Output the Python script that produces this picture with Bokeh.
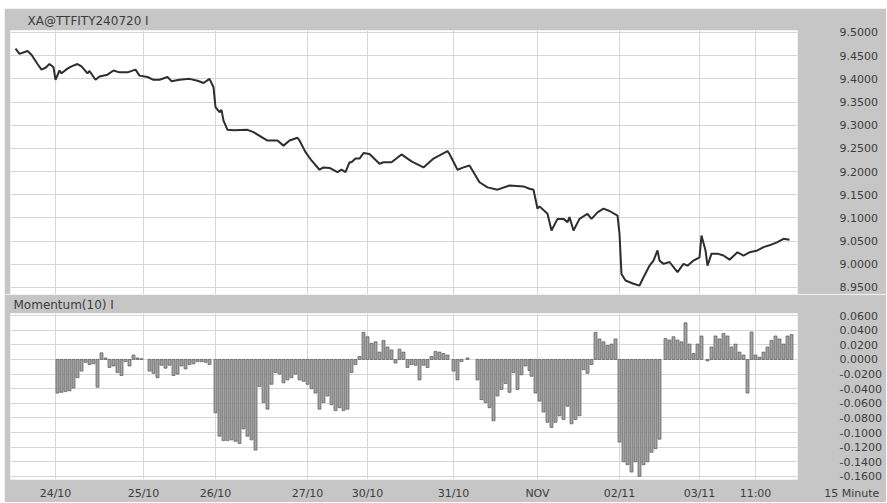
from bokeh.plotting import figure
from bokeh.layouts import column
from bokeh.models import Range1d, FixedTicker, LinearAxis
from bokeh.embed import file_html
from bokeh.resources import INLINE

# ---------------- data (15-minute bar index) ----------------
price_idx = [0, 2, 6, 8, 11, 13, 15, 17, 19, 20, 22, 23, 26, 28, 31, 33, 36, 37, 40, 42,
             46, 49, 52, 56, 60, 62, 66, 69, 72, 76, 78, 82, 87, 91, 94, 97, 99, 100, 102, 103,
             104, 106, 109, 116, 119, 126, 131, 134, 137, 141, 142, 145, 148, 152, 154, 157, 161, 163, 165, 167,
             168, 170, 172, 174, 177, 182, 184, 188, 193, 198, 204, 209, 216, 217, 221, 224, 227, 232, 236, 241,
             247, 254, 257, 259, 261, 262, 266, 268, 271, 274, 276, 277, 279, 282, 286, 288, 291, 294, 297, 301,
             302, 303, 305, 309, 312, 314, 317, 319, 321, 322, 324, 327, 331, 334, 336, 339, 342, 343, 345, 346,
             348, 351, 354, 357, 361, 364, 367, 371, 374, 377, 381, 384, 387]
price_val = [9.465, 9.454, 9.460, 9.452, 9.432, 9.420, 9.424, 9.432, 9.425, 9.398, 9.418, 9.412, 9.422, 9.427, 9.432, 9.427, 9.412, 9.417, 9.398, 9.405,
             9.409, 9.418, 9.414, 9.414, 9.420, 9.407, 9.404, 9.398, 9.398, 9.404, 9.395, 9.398, 9.400, 9.396, 9.391, 9.400, 9.382, 9.339, 9.328, 9.333,
             9.310, 9.290, 9.289, 9.290, 9.285, 9.267, 9.267, 9.256, 9.267, 9.273, 9.267, 9.242, 9.224, 9.204, 9.209, 9.208, 9.199, 9.204, 9.199, 9.220,
             9.220, 9.228, 9.228, 9.240, 9.238, 9.217, 9.220, 9.220, 9.237, 9.222, 9.209, 9.228, 9.244, 9.238, 9.204, 9.209, 9.213, 9.177, 9.166, 9.161,
             9.170, 9.168, 9.163, 9.161, 9.120, 9.125, 9.109, 9.073, 9.098, 9.098, 9.091, 9.102, 9.073, 9.098, 9.109, 9.098, 9.112, 9.120, 9.115, 9.105,
             9.066, 8.979, 8.965, 8.958, 8.954, 8.972, 8.997, 9.008, 9.030, 9.008, 9.001, 9.005, 8.983, 9.001, 8.997, 9.008, 9.015, 9.062, 9.030, 8.997,
             9.023, 9.023, 9.019, 9.010, 9.026, 9.019, 9.026, 9.030, 9.037, 9.041, 9.048, 9.055, 9.053]

mom_idx = [21, 23, 25, 27, 29, 31, 33, 35, 37, 39, 41, 43, 45, 47, 49, 51, 53, 55, 57, 59, 61, 63,
           67, 69, 71, 73, 75, 77, 79, 81, 83, 85, 87, 89, 91, 93, 95, 97,
           100, 102, 104, 106, 108, 110, 112, 114, 116, 118, 120, 122, 124, 126, 128, 130, 132, 134, 136, 138,
           140, 142, 144, 146, 148, 150, 152, 154, 156, 158, 160, 162, 164, 166, 168, 170, 172, 174, 176, 178,
           180, 182, 184, 186, 188, 190, 192, 194, 196, 198, 200, 202, 204, 206, 208, 210, 212, 214, 216,
           219, 221, 223, 226,
           231, 233, 235, 237, 239, 241, 243, 245, 247, 249, 251, 253, 255, 257, 258, 260, 262, 264, 266, 268,
           270, 272, 274, 276, 278, 280, 282, 284, 286, 288, 290, 292, 294, 296, 298, 300,
           302, 304, 306, 308, 310, 312, 314, 316, 318, 320, 322,
           325, 327, 329, 331, 333, 335, 337, 339, 341, 343, 346, 348, 350, 352, 354, 356, 358, 360, 362, 364,
           366, 368, 370, 372, 374, 376, 378, 380, 382, 384, 386, 388]
mom_val = [-0.046, -0.045, -0.044, -0.043, -0.039, -0.025, -0.016, -0.004, -0.007, -0.006, -0.038, 0.009, 0.002, -0.011, -0.009, -0.018, -0.022, -0.003, -0.009, 0.006, 0.002, 0.001,
           -0.016, -0.019, -0.025, -0.008, -0.012, -0.008, -0.022, -0.020, -0.009, -0.013, -0.007, -0.006, -0.003, -0.003, -0.004, -0.007,
           -0.073, -0.105, -0.111, -0.111, -0.110, -0.112, -0.115, -0.095, -0.105, -0.110, -0.124, -0.037, -0.059, -0.068, -0.034, -0.018, -0.020, -0.032, -0.028, -0.025,
           -0.020, -0.028, -0.030, -0.034, -0.040, -0.046, -0.068, -0.059, -0.050, -0.062, -0.070, -0.066, -0.070, -0.068, -0.018, -0.007, 0.004, 0.037, 0.031, 0.022,
           0.024, 0.010, 0.026, 0.017, 0.013, -0.005, 0.014, 0.010, -0.011, -0.007, -0.008, -0.028, -0.008, -0.011, 0.004, 0.011, 0.010, 0.008, 0.006,
           -0.016, -0.028, -0.003, 0.002,
           -0.028, -0.055, -0.059, -0.066, -0.084, -0.050, -0.041, -0.033, -0.045, -0.018, -0.041, -0.021, -0.009, -0.015, -0.023, -0.046, -0.057, -0.072, -0.086, -0.093,
           -0.086, -0.077, -0.082, -0.064, -0.088, -0.082, -0.077, -0.014, -0.019, -0.007, 0.037, 0.028, 0.024, 0.019, 0.021, 0.028,
           -0.113, -0.140, -0.144, -0.154, -0.140, -0.160, -0.144, -0.140, -0.127, -0.122, -0.109,
           0.0285, 0.0265, 0.031, 0.0265, 0.024, 0.050, 0.021, 0.008, 0.021, 0.032, -0.002, 0.017, 0.032, 0.028, 0.0355, 0.032, 0.017, 0.021, 0.010, 0.006,
           -0.046, 0.0375, 0.006, 0.003, 0.010, 0.017, 0.026, 0.032, 0.028, 0.021, 0.032, 0.034]

x_tick_idx = [20, 64, 100, 146, 176, 219, 261, 302, 342, 370]
x_tick_labels = ["24/10", "25/10", "26/10", "27/10", "30/10", "31/10", "NOV", "02/11", "03/11", "11:00"]

price_ticks = [8.95, 9.00, 9.05, 9.10, 9.15, 9.20, 9.25, 9.30, 9.35, 9.40, 9.45, 9.50]
price_tick_labels = ["8.9500", "9.0000", "9.0500", "9.1000", "9.1500", "9.2000",
                     "9.2500", "9.3000", "9.3500", "9.4000", "9.4500", "9.5000"]
mom_ticks = [-0.16, -0.14, -0.12, -0.10, -0.08, -0.06, -0.04, -0.02, 0.0, 0.02, 0.04, 0.06]
mom_tick_labels = ["-0.1600", "-0.1400", "-0.1200", "-0.1000", "-0.0800", "-0.0600",
                   "-0.0400", "-0.0200", "0.0000", "0.0200", "0.0400", "0.0600"]

title_top = "XA@TTFITY240720 I"
title_bottom = "Momentum(10) I"
interval_text = "15 Minute"

# ---------------- styling ----------------
BG = "#c6c6c6"
GRID = "#d6d6d6"
TXT = "#3c3c3c"
FONT = "DejaVu Sans"
W = 882
X_START, X_END = -2.5, 391

xr = Range1d(X_START, X_END)


def style(p, yticks, ylabels):
    p.border_fill_color = BG
    p.background_fill_color = "white"
    p.outline_line_color = None
    p.min_border_left = 6
    p.min_border_right = W - 793
    p.title.text_font = FONT
    p.title.text_font_size = "12px"
    p.title.text_font_style = "normal"
    p.title.text_color = TXT
    ax = LinearAxis(ticker=FixedTicker(ticks=yticks),
                    major_label_overrides={t: l for t, l in zip(yticks, ylabels)})
    ax.axis_line_color = None
    ax.major_tick_line_color = None
    ax.minor_tick_line_color = None
    ax.major_tick_out = 0
    ax.major_tick_in = 0
    ax.major_label_text_font = FONT
    ax.major_label_text_font_size = "11px"
    ax.major_label_text_color = TXT
    ax.major_label_standoff = 42
    p.add_layout(ax, "right")
    p.ygrid.ticker = FixedTicker(ticks=yticks)
    p.xgrid.ticker = FixedTicker(ticks=x_tick_idx)
    p.xgrid.grid_line_color = GRID
    p.ygrid.grid_line_color = GRID
    return ax


# top pane: price
p1 = figure(width=W, height=286, x_range=xr, y_range=Range1d(8.9349, 9.5043),
            output_backend="svg", toolbar_location=None, y_axis_location=None,
            x_axis_location=None, title=title_top)
style(p1, price_ticks, price_tick_labels)
p1.title.offset = 17
p1.title.standoff = 6
p1.min_border_top = 0
p1.min_border_bottom = 0
p1.line(price_idx, price_val, line_color="#2e2e2e", line_width=2)

# bottom pane: momentum
p2 = figure(width=W, height=208, x_range=xr, y_range=Range1d(-0.1642, 0.0628),
            output_backend="svg", toolbar_location=None, y_axis_location=None,
            title=title_bottom)
style(p2, mom_ticks, mom_tick_labels)
p2.title.offset = 3
p2.title.standoff = 3
p2.min_border_top = 0
p2.min_border_bottom = 21
# the interval caption sits on the date-label line, right of the plot area
axis_ticks = x_tick_idx + [X_END]
axis_labels = x_tick_labels + ["\u00a0" * 31 + interval_text]
p2.xaxis.ticker = FixedTicker(ticks=axis_ticks)
p2.xaxis.major_label_overrides = {t: l for t, l in zip(axis_ticks, axis_labels)}
p2.xaxis.axis_line_color = None
p2.xaxis.major_tick_line_color = None
p2.xaxis.minor_tick_line_color = None
p2.xaxis.major_tick_out = 0
p2.xaxis.major_tick_in = 0
p2.xaxis.major_label_standoff = 7
p2.xaxis.major_label_text_font = FONT
p2.xaxis.major_label_text_font_size = "11px"
p2.xaxis.major_label_text_color = TXT
p2.vbar(x=mom_idx, top=mom_val, bottom=0, width=1.5,
        fill_color="#a3a3a3", line_color="#5a5a5a", line_width=0.7)

layout = column(p1, p2, spacing=0, margin=(8, 0, 0, 4))
open("out.html", "w").write(file_html(layout, INLINE))
